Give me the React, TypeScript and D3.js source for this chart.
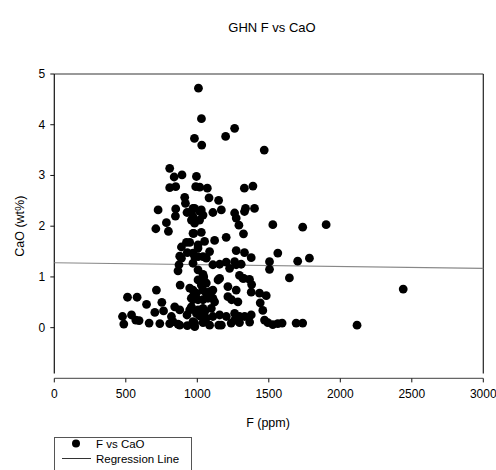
import React from "react";
import * as d3 from "d3";

const title = "GHN F vs CaO";
const xLabel = "F (ppm)";
const yLabel = "CaO (wt%)";
const xTicks = [0, 500, 1000, 1500, 2000, 2500, 3000];
const yTicks = [0, 1, 2, 3, 4, 5];
const legendLabels = ["F vs CaO", "Regression Line"];

const fValues = [
  477, 486, 512, 540, 570, 579, 593, 645, 663, 703, 714, 738, 752, 764, 807, 819, 842, 865, 877, 880,
  865, 872, 877, 889, 710, 726, 784, 798, 847, 849, 807, 849, 807, 838, 893, 912, 917, 928, 889, 830,
  877, 924, 930, 959, 970, 975, 930, 970, 959, 970, 970, 994, 928, 947, 947, 958, 958, 981, 982, 947,
  970, 982, 970, 970, 981, 970, 981, 958, 994, 989, 980, 993, 970,
  1008, 1029, 1031, 1017, 1070, 1082, 1028, 1040, 1016, 1017, 1028, 1051, 1005, 1005, 1040, 1063, 1040,
  1005, 1005, 1028, 1063, 1063, 1040, 1086, 1040, 1005, 1075, 1040, 1005, 1052, 1098, 1016, 1063, 1040,
  1086, 1109, 1149, 1168, 1121, 1202, 1109, 1156, 1202, 1226, 1261, 1272, 1272, 1198, 1261, 1261, 1272,
  1291, 1145, 1109, 1121, 1109, 1156, 1214, 1214, 1272, 1284, 1109, 1156, 1203, 1261, 1261, 1168, 1237,
  1295, 1295, 1295, 1319, 1307, 1329, 1389, 1330, 1337, 1400, 1323, 1330, 1377, 1325, 1365, 1380, 1377,
  1440, 1482, 1458, 1377, 1366, 1331, 1435, 1470, 1468, 1493, 1505, 1505, 1528, 1563, 1528, 1563, 1593,
  1644, 1691, 1737, 1702, 1784, 1737, 1901, 2440, 2117, 1005, 1045, 1086, 1150, 1240
];
const caoValues = [
  0.22, 0.07, 0.60, 0.25, 0.15, 0.60, 0.14, 0.46, 0.09, 0.30, 0.74, 0.08, 0.50, 0.33, 0.08, 0.22, 0.41, 0.07, 0.35, 0.84,
  1.12, 1.24, 1.41, 1.59, 1.95, 2.32, 2.07, 1.90, 2.20, 2.34, 2.76, 2.78, 3.14, 2.97, 3.01, 2.57, 2.45, 2.27, 1.37, 0.12,
  0.05, 1.68, 1.48, 2.12, 2.35, 1.86, 0.04, 0.12, 0.41, 0.74, 0.61, 0.28, 0.25, 0.35, 0.78, 0.58, 0.38, 0.09, 0.02, 1.68,
  1.47, 1.40, 1.27, 1.86, 2.06, 2.19, 2.35, 2.29, 2.98, 2.78, 3.73, 0.68, 0.55,
  4.72, 4.12, 3.60, 2.77, 2.75, 2.56, 2.32, 2.22, 2.12, 2.29, 1.88, 1.70, 1.57, 1.40, 1.40, 1.37, 1.05,
  0.94, 1.14, 0.84, 0.88, 0.68, 0.74, 0.71, 0.55, 0.55, 0.58, 0.38, 0.35, 0.32, 0.38, 0.23, 0.19, 0.10,
  0.05, 2.27, 2.51, 2.32, 1.72, 1.78, 1.24, 1.25, 1.29, 1.17, 1.30, 1.24, 1.52, 3.77, 3.93, 2.26, 2.16,
  2.02, 0.94, 0.74, 0.51, 0.58, 0.97, 0.81, 0.61, 0.74, 0.51, 0.22, 0.25, 0.22, 0.28, 0.15, 0.05, 0.09,
  0.10, 0.22, 1.03, 0.97, 1.25, 2.75, 2.79, 2.29, 2.35, 2.35, 1.85, 1.48, 1.38, 0.97, 0.95, 0.85, 0.70,
  0.49, 0.63, 0.34, 0.25, 0.11, 0.22, 0.68, 0.15, 3.50, 0.10, 1.30, 1.15, 2.03, 1.47, 0.06, 0.08, 0.09,
  0.98, 0.09, 0.09, 1.31, 1.37, 1.98, 2.03, 0.76, 0.05, 1.63, 1.00, 1.50, 0.05, 0.55
];
const regressionF = [0, 3000];
const regressionCaO = [1.28, 1.17];

const W = 496;
const H = 470;
const left = 54.3;
const right = 483.3;
const top = 74;
const bottom = 378.4;

export default function App() {
  const x = d3.scaleLinear().domain([0, 3000]).range([left, right]);
  const y = d3.scaleLinear().domain([-1, 5]).range([bottom, top]);
  const font = "Liberation Sans, Arial, sans-serif";
  const regLine = d3
    .line<number>()
    .x((_, i) => x(regressionF[i]))
    .y((d) => y(d))(regressionCaO);

  return (
    <svg
      width={W}
      height={H}
      style={{ position: "absolute", left: 0, top: 0, background: "#fff" }}
      fontFamily={font}
    >
      <rect width={W} height={H} fill="#fff" />
      <text x={272} y={32} textAnchor="middle" fontSize={13} fill="#000">
        {title}
      </text>
      {/* frame */}
      <line x1={left} x2={right} y1={top} y2={top} stroke="#777" strokeWidth={1.5} />
      <line x1={right} x2={right} y1={top} y2={bottom - 5} stroke="#222" strokeWidth={1.2} />
      <line x1={left} x2={left} y1={top} y2={bottom - 5} stroke="#111" strokeWidth={1.2} />
      <line x1={left} x2={right} y1={bottom} y2={bottom} stroke="#666" strokeWidth={1.3} />
      {/* y ticks */}
      {yTicks.map((t) => (
        <g key={"y" + t}>
          <line x1={left - 4} x2={left} y1={y(t)} y2={y(t)} stroke="#111" />
          <text x={left - 9} y={y(t) + 4} textAnchor="end" fontSize={12} fill="#000">
            {t}
          </text>
        </g>
      ))}
      {/* x ticks */}
      {xTicks.map((t) => (
        <g key={"x" + t}>
          <line x1={x(t)} x2={x(t)} y1={bottom} y2={bottom + 4} stroke="#111" />
          <text x={x(t)} y={bottom + 20} textAnchor="middle" fontSize={12} fill="#000">
            {t}
          </text>
        </g>
      ))}
      <text x={268} y={427} textAnchor="middle" fontSize={12.5} fill="#000">
        {xLabel}
      </text>
      <text
        transform={`translate(24,${y(2)}) rotate(-90)`}
        textAnchor="middle"
        fontSize={12.5}
        fill="#000"
      >
        {yLabel}
      </text>
      {/* regression */}
      <path d={regLine || ""} stroke="#888" strokeWidth={1.2} fill="none" />
      {/* points */}
      {fValues.map((f, i) => (
        <circle key={i} cx={x(f)} cy={y(caoValues[i])} r={4.4} fill="#000" />
      ))}
      {/* legend */}
      <rect x={54.5} y={437.5} width={137} height={40} fill="#fff" stroke="#555" />
      <circle cx={76} cy={443.5} r={4} fill="#000" />
      <text x={96} y={447.5} fontSize={11.5} fill="#000">
        {legendLabels[0]}
      </text>
      <line x1={62} x2={91} y1={458.5} y2={458.5} stroke="#333" />
      <text x={96} y={462.5} fontSize={11.5} fill="#000">
        {legendLabels[1]}
      </text>
    </svg>
  );
}
